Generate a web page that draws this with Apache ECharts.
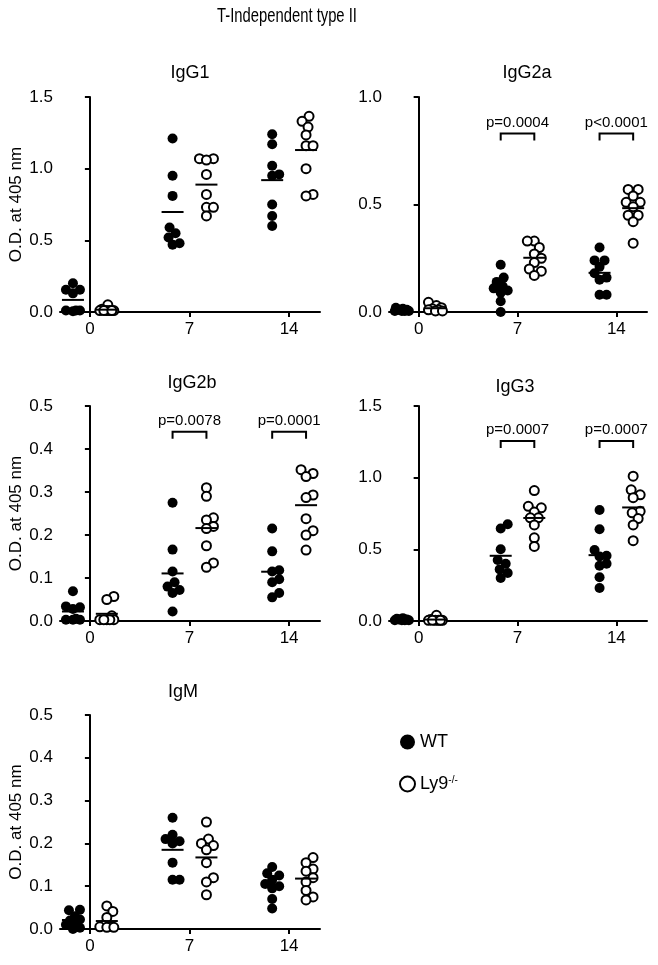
<!DOCTYPE html>
<html><head><meta charset="utf-8">
<script src="https://cdn.jsdelivr.net/npm/echarts@6/dist/echarts.min.js"></script>
<style>html,body{margin:0;padding:0;background:#fff}#c{width:658px;height:965px}</style>
</head><body><div id="c"></div>
<script>
// ---- data ----
const days = ['0', '7', '14'];
const panelNames = ['IgG1', 'IgG2a', 'IgG2b', 'IgG3', 'IgM'];
const yMax = [1.5, 1.0, 0.5, 1.5, 0.5];
const yStep = [0.5, 0.5, 0.1, 0.5, 0.1];

// values per day [day0, day7, day14]
const IgG1_WT = [[0.20,0.155,0.155,0.13,0.01,0.01,0.01,0.005],
                 [1.21,0.95,0.81,0.59,0.55,0.52,0.48,0.47],
                 [1.24,1.17,1.02,0.96,0.95,0.75,0.67,0.60]];
const IgG1_KO = [[0.05,0.02,0.01,0.01,0.01,0.01,0.01,0.01],
                 [1.07,1.07,1.06,0.96,0.82,0.73,0.73,0.67],
                 [1.365,1.33,1.29,1.235,1.16,1.16,1.0,0.82,0.81]];
const IgG2a_WT = [[0.02,0.015,0.01,0.01,0.005,0.005,0.005,0.005],
                  [0.22,0.16,0.14,0.12,0.11,0.10,0.09,0.05,0.0],
                  [0.30,0.24,0.24,0.21,0.18,0.16,0.15,0.08,0.08]];
const IgG2a_KO = [[0.045,0.03,0.02,0.015,0.01,0.01,0.005,0.005],
                  [0.33,0.33,0.30,0.27,0.25,0.23,0.20,0.19,0.17],
                  [0.57,0.57,0.54,0.51,0.51,0.49,0.45,0.45,0.42,0.32]];
const IgG2b_WT = [[0.069,0.034,0.032,0.028,0.005,0.003,0.003,0.003],
                  [0.275,0.166,0.115,0.09,0.08,0.072,0.065,0.022],
                  [0.215,0.162,0.118,0.115,0.097,0.09,0.065,0.055]];
const IgG2b_KO = [[0.057,0.05,0.012,0.003,0.003,0.003,0.003,0.003],
                  [0.31,0.29,0.24,0.235,0.22,0.215,0.175,0.135,0.125],
                  [0.352,0.343,0.336,0.293,0.287,0.238,0.21,0.2,0.165]];
const IgG3_WT = [[0.02,0.015,0.01,0.01,0.005,0.005,0.005,0.005],
                 [0.675,0.645,0.5,0.425,0.4,0.36,0.335,0.3],
                 [0.775,0.64,0.495,0.455,0.45,0.40,0.385,0.305,0.23]];
const IgG3_KO = [[0.04,0.01,0.005,0.005,0.005,0.005,0.005,0.005],
                 [0.91,0.80,0.79,0.76,0.72,0.72,0.67,0.58,0.52],
                 [1.01,0.915,0.88,0.86,0.765,0.755,0.715,0.67,0.56]];
const IgM_WT = [[0.045,0.044,0.03,0.022,0.02,0.015,0.01,0.003,0.0],
                [0.26,0.22,0.21,0.205,0.20,0.155,0.115,0.115],
                [0.145,0.13,0.125,0.115,0.105,0.10,0.095,0.07,0.048]];
const IgM_KO = [[0.054,0.041,0.027,0.008,0.006,0.005,0.004,0.004],
                [0.25,0.21,0.20,0.195,0.185,0.155,0.12,0.11,0.08],
                [0.167,0.155,0.14,0.135,0.12,0.11,0.09,0.075,0.068]];

// p-values (day 7, day 14) and bracket level
const pIgG2a = ['p=0.0004', 'p<0.0001'];
const pIgG2b = ['p=0.0078', 'p=0.0001'];
const pIgG3  = ['p=0.0007', 'p=0.0007'];
const bracketLevel = [null, 0.83, 0.44, 1.255, null];

const WT = [IgG1_WT, IgG2a_WT, IgG2b_WT, IgG3_WT, IgM_WT];
const KO = [IgG1_KO, IgG2a_KO, IgG2b_KO, IgG3_KO, IgM_KO];
const pLabels = [null, pIgG2a, pIgG2b, pIgG3, null];

// ---- layout ----
const FONT = '"Liberation Sans", Arial, Helvetica, sans-serif';
const grids = [
  {left: 60, top: 97, width: 260, height: 215},
  {left: 389, top: 97, width: 258, height: 215},
  {left: 60, top: 406, width: 260, height: 215},
  {left: 389, top: 406, width: 258, height: 215},
  {left: 60, top: 715, width: 260, height: 214}
];
const titlePos = [[190, 73], [527, 73], [192, 383], [515, 387], [183, 692]];
const XMIN = -0.3, XMAX = 2.31, SIDE = 0.17;

function swarm(vals, pxY) {
  const idx = vals.map((v, i) => i).sort((a, b) => vals[a] - vals[b]);
  const placed = [];
  const off = new Array(vals.length).fill(0);
  const D = 8, M = 7;
  for (const i of idx) {
    const y = vals[i] * pxY;
    let best = 0, bestScore = -Infinity;
    for (let s = 0; s <= 2 * M; s++) {
      const o = (s % 2 ? 1 : -1) * Math.ceil(s / 2);
      let minD = Infinity;
      for (const p of placed) {
        const d = Math.hypot(p[0] - o, p[1] - y);
        if (d < minD) minD = d;
      }
      if (minD >= D) { best = o; break; }
      if (minD > bestScore) { bestScore = minD; best = o; }
    }
    off[i] = best;
    placed.push([best, y]);
  }
  return off;
}

const mean = a => a.reduce((s, v) => s + v, 0) / a.length;

const xAxis = [], yAxis = [], series = [], graphic = [];
grids.forEach((g, i) => {
  g.containLabel = false;
  g.outerBoundsMode = 'none';
  const pxY = g.height / yMax[i];
  const pxX = g.width / (XMAX - XMIN);
  xAxis.push({
    gridIndex: i, type: 'value', min: XMIN, max: XMAX,
    axisLine: {onZero: false, lineStyle: {color: '#000', width: 2}},
    axisTick: {show: true, customValues: [0, 1, 2], length: 5, lineStyle: {color: '#000', width: 2}},
    axisLabel: {customValues: [0, 1, 2], formatter: v => days[Math.round(v)], margin: 9,
                fontSize: 17, color: '#000', fontFamily: FONT},
    splitLine: {show: false}
  });
  yAxis.push({
    gridIndex: i, type: 'value', min: 0, max: yMax[i], interval: yStep[i],
    axisLine: {show: true, lineStyle: {color: '#000', width: 2}},
    axisTick: {show: true, length: 5, lineStyle: {color: '#000', width: 2}},
    axisLabel: {formatter: v => v.toFixed(1), margin: 7, fontSize: 17, color: '#000', fontFamily: FONT},
    splitLine: {show: false},
    name: (i % 2 === 0) ? 'O.D. at 405 nm' : '',
    nameLocation: 'middle', nameGap: 35,
    nameTextStyle: {fontSize: 17, color: '#000', fontFamily: FONT}
  });
  const wtData = [], koData = [], means = [];
  [0, 1, 2].forEach(d => {
    const wOff = swarm(WT[i][d], pxY);
    WT[i][d].forEach((v, k) => wtData.push([d - SIDE + wOff[k] / pxX, v]));
    const kOff = swarm(KO[i][d], pxY);
    KO[i][d].forEach((v, k) => koData.push([d + SIDE + kOff[k] / pxX, v]));
    means.push([d - SIDE, mean(WT[i][d])]);
    means.push([d + SIDE, mean(KO[i][d])]);
  });
  series.push({
    name: 'WT', type: 'scatter', xAxisIndex: i, yAxisIndex: i, data: wtData,
    symbol: 'circle', symbolSize: 10, itemStyle: {color: '#000', opacity: 1}, z: 2, silent: true
  });
  series.push({
    name: 'Ly9-/-', type: 'scatter', xAxisIndex: i, yAxisIndex: i, data: koData,
    symbol: 'circle', symbolSize: 9, itemStyle: {color: '#fff', borderColor: '#000', borderWidth: 2, opacity: 1}, z: 2, silent: true
  });
  series.push({
    type: 'custom', xAxisIndex: i, yAxisIndex: i, data: means, z: 3, silent: true,
    renderItem: (params, api) => {
      const c = api.coord([api.value(0), api.value(1)]);
      return {type: 'line', shape: {x1: c[0] - 11, y1: c[1], x2: c[0] + 11, y2: c[1]},
              style: {stroke: '#000', lineWidth: 2}};
    }
  });
  if (pLabels[i]) {
    const labs = pLabels[i];
    series.push({
      type: 'custom', xAxisIndex: i, yAxisIndex: i, z: 3, silent: true,
      data: [[1, bracketLevel[i], 0], [2, bracketLevel[i], 1]],
      renderItem: (params, api) => {
        const gx = api.value(0), lv = api.value(1), li = api.value(2);
        const l = api.coord([gx - SIDE, lv]);
        const r = api.coord([gx + SIDE, lv]);
        return {type: 'group', children: [
          {type: 'polyline', shape: {points: [[l[0], l[1] + 7], [l[0], l[1]], [r[0], r[1]], [r[0], r[1] + 7]]},
           style: {stroke: '#000', lineWidth: 2, fill: null}},
          {type: 'text', x: (l[0] + r[0]) / 2, y: l[1] - 11,
           style: {text: labs[li], fill: '#000', fontSize: 15, fontFamily: FONT, align: 'center', verticalAlign: 'middle'}}
        ]};
      }
    });
  }
  graphic.push({type: 'text', x: titlePos[i][0], y: titlePos[i][1],
    style: {text: panelNames[i], fill: '#000', fontSize: 18, fontFamily: FONT, align: 'center', verticalAlign: 'middle'}});
});
graphic.push({type: 'text', x: 287, y: 16, scaleX: 0.74,
  style: {text: 'T-Independent type II', fill: '#000', fontSize: 20, fontFamily: FONT, align: 'center', verticalAlign: 'middle'}});

const chart = echarts.init(document.getElementById('c'), null, {renderer: 'canvas'});
chart.setOption({
  animation: false,
  backgroundColor: '#fff',
  grid: grids, xAxis, yAxis, series, graphic,
  legend: {
    data: ['WT', 'Ly9-/-'], orient: 'vertical', left: 394, top: 728,
    itemWidth: 15, itemHeight: 15, itemGap: 24, icon: 'circle', selectedMode: false,
    textStyle: {fontSize: 18, color: '#000', fontFamily: FONT,
      rich: {n: {fontSize: 18, color: '#000', fontFamily: FONT},
             s: {fontSize: 10, color: '#000', fontFamily: FONT, verticalAlign: 'top', padding: [0, 0, 6, 0]}}},
    formatter: n => n === 'WT' ? n : '{n|Ly9}{s|-/-}'
  }
});
</script></body></html>
